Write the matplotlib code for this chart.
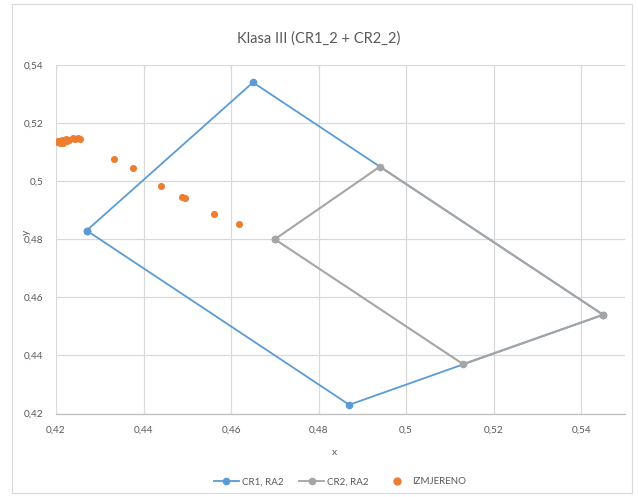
import matplotlib
matplotlib.use("Agg")
import matplotlib.pyplot as plt
from matplotlib.lines import Line2D
from matplotlib.patches import Rectangle

plt.rcParams['font.family'] = ['Lato', 'DejaVu Sans']

title = "Klasa III (CR1_2 + CR2_2)"

cr1_x = [0.427, 0.465, 0.545, 0.487, 0.427]
cr1_y = [0.483, 0.534, 0.454, 0.423, 0.483]

cr2_x = [0.470, 0.494, 0.545, 0.513, 0.470]
cr2_y = [0.480, 0.505, 0.454, 0.437, 0.480]

izm_x = [0.4203, 0.4205, 0.4208, 0.4210, 0.4213, 0.4216, 0.4219, 0.4222, 0.4226,
         0.4230, 0.4238, 0.4244, 0.4250, 0.4254,
         0.4332, 0.4375, 0.4441, 0.4487, 0.4495, 0.4561, 0.4618]
izm_y = [0.5134, 0.5140, 0.5131, 0.5137, 0.5142, 0.5133, 0.5139, 0.5144, 0.5140,
         0.5143, 0.5147, 0.5145, 0.5148, 0.5146,
         0.5078, 0.5044, 0.4985, 0.4947, 0.4942, 0.4888, 0.4853]

xticks = [0.42, 0.44, 0.46, 0.48, 0.50, 0.52, 0.54]
xtick_labels = ["0,42", "0,44", "0,46", "0,48", "0,5", "0,52", "0,54"]
yticks = [0.42, 0.44, 0.46, 0.48, 0.50, 0.52, 0.54]
ytick_labels = ["0,42", "0,44", "0,46", "0,48", "0,5", "0,52", "0,54"]

labels = ["CR1, RA2", "CR2, RA2", "IZMJERENO"]

BLUE = "#5B9BD5"
GRAY = "#A5A5A5"
ORANGE = "#ED7D31"
TXT = "#595959"

fig = plt.figure(figsize=(6.38, 4.97), dpi=100)
fig.patch.set_facecolor("white")
# chart area border
fig.add_artist(Rectangle((12 / 638, 4 / 497), (632 - 12) / 638, (493 - 4) / 497,
                         transform=fig.transFigure, fill=False,
                         edgecolor="#D9D9D9", linewidth=0.8))

ax = fig.add_axes([56 / 638, (497 - 413.5) / 497, (625 - 56) / 638, (413.5 - 65) / 497])
ax.set_xlim(0.42, 0.55)
ax.set_ylim(0.42, 0.54)
ax.set_xticks(xticks)
ax.set_xticklabels(xtick_labels)
ax.set_yticks(yticks)
ax.set_yticklabels(ytick_labels)
ax.grid(True, color="#D9D9D9", linewidth=0.9)
ax.set_axisbelow(True)
for s in ["top", "right", "left"]:
    ax.spines[s].set_visible(False)
ax.spines["bottom"].set_color("#BFBFBF")
ax.spines["bottom"].set_linewidth(0.9)
ax.tick_params(length=0, labelsize=7.2, labelcolor=TXT, pad=9)

ax.plot(cr1_x, cr1_y, color=BLUE, linewidth=1.3, marker="o", markersize=4.5,
        label=labels[0], zorder=3)
ax.plot(cr2_x, cr2_y, color=GRAY, linewidth=1.5, marker="o", markersize=4.5,
        label=labels[1], zorder=4)
ax.scatter(izm_x, izm_y, color=ORANGE, s=26, linewidths=0, label=labels[2], zorder=5)

ax.set_xlabel("x", fontsize=7.5, color=TXT)
ax.xaxis.set_label_coords(0.49, -0.10)
ax.set_ylabel("y", fontsize=7.5, color=TXT)
ax.yaxis.set_label_coords(-0.045, 0.52)

fig.text(0.5, 1 - 39 / 497, title, ha="center", va="center", fontsize=10.5, color=TXT)

handles = [
    Line2D([], [], color=BLUE, linewidth=1.3, marker="o", markersize=4.5),
    Line2D([], [], color=GRAY, linewidth=1.3, marker="o", markersize=4.5),
    Line2D([], [], color=ORANGE, linestyle="none", marker="o", markersize=5),
]
fig.legend(handles, labels, loc="center", bbox_to_anchor=(340 / 638, 1 - 482 / 497),
           ncol=3, frameon=False, fontsize=7, labelcolor=TXT, handlelength=2.6,
           handletextpad=0.3, columnspacing=1.6)

fig.savefig("out.png", dpi=100)
